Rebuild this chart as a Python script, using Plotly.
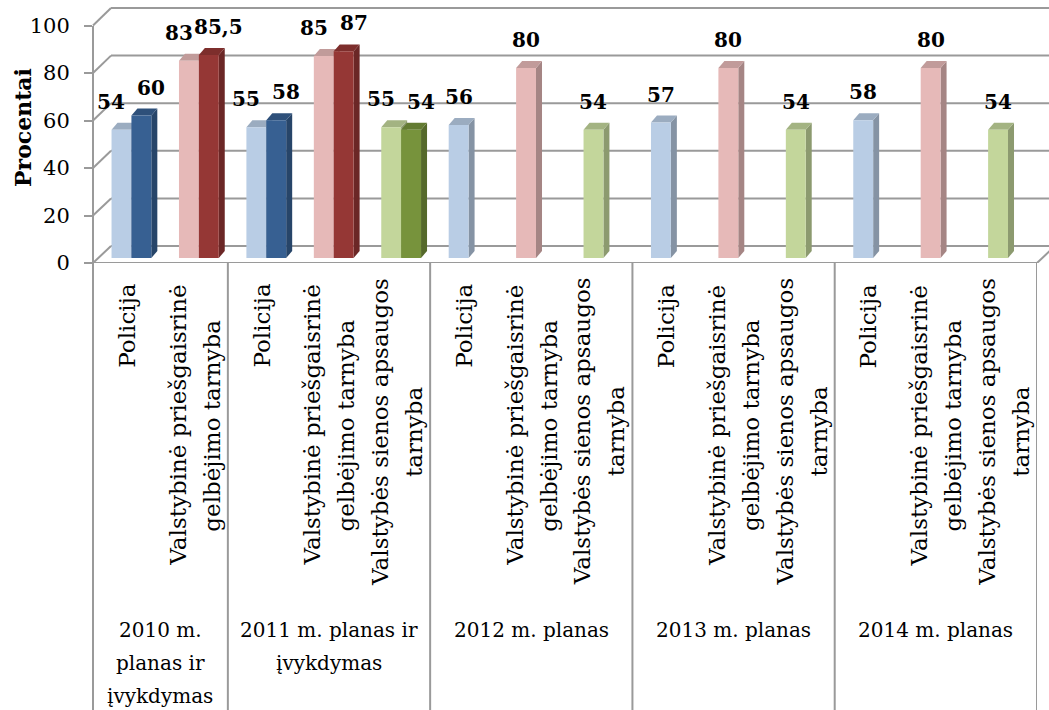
import plotly.graph_objects as go

# ---------------- data ----------------
groups = ["2010 m.<br>planas ir<br>įvykdymas", "2011 m. planas ir<br>įvykdymas",
          "2012 m. planas", "2013 m. planas", "2014 m. planas"]
group_sizes = [2, 3, 3, 3, 3]

POL = "Policija"
VPGT = "Valstybinė priešgaisrinė<br>gelbėjimo tarnyba"
VSAT = "Valstybės sienos apsaugos<br>tarnyba"
categories = [POL, VPGT,
              POL, VPGT, VSAT,
              POL, VPGT, VSAT,
              POL, VPGT, VSAT,
              POL, VPGT, VSAT]
services = ["pol", "vpgt", "pol", "vpgt", "vsat", "pol", "vpgt", "vsat",
            "pol", "vpgt", "vsat", "pol", "vpgt", "vsat"]
plan_values = [54, 83, 55, 85, 55, 56, 80, 54, 57, 80, 54, 58, 80, 54]
actual_values = [60, 85.5, 58, 87, 54, None, None, None, None, None, None, None, None, None]
y_ticks = [0, 20, 40, 60, 80, 100]

plan_colors = {"pol": "#B9CDE5", "vpgt": "#E6B9B8", "vsat": "#C3D69B"}
actual_colors = {"pol": "#376092", "vpgt": "#953735", "vsat": "#77933C"}

# ---------------- geometry (pixels of the 1049x710 page) ----------------
W, H = 1049, 710
X_LEFT, X_RIGHT = 93, 1037          # front edge of floor / table
Y_FLOOR_FRONT = 263                 # front floor line
Y_BASE = 258                        # bar base (value 0)
PX_PER_UNIT = 2.375
DEPTH_X, DEPTH_Y = 18, 17           # wall offset
WALL_SHIFT = (Y_BASE - (Y_FLOOR_FRONT - DEPTH_Y)) / PX_PER_UNIT

n = len(categories)
cat_px = (X_RIGHT - X_LEFT) / n
y_lo = -(Y_FLOOR_FRONT - Y_BASE) / PX_PER_UNIT
y_hi = Y_BASE / PX_PER_UNIT
FRONT_SHIFT = y_lo

BAR_W = 0.295
OFFSETS = {"plan": -0.225, "actual": 0.07}
dx = 6 / cat_px
dy = 7 / PX_PER_UNIT

FONT = "DejaVu Serif"
CAT_SIZE = 23
GRP_SIZE = 20
CAT_GAP = 34
GRP_GAP = 33
GRID = "#9a9a9a"


def shade(hexc, f):
    hexc = hexc.lstrip("#")
    r, g, b = (int(hexc[i:i + 2], 16) for i in (0, 2, 4))
    return "rgb(%d,%d,%d)" % (r * f, g * f, b * f)


def px_x(p):
    return p / W


def px_y(p):
    return (H - p) / H


fig = go.Figure()

# ---- 3D side and top faces (base subplot, below the front faces) ----
for key, vals, cols in (("plan", plan_values, plan_colors), ("actual", actual_values, actual_colors)):
    for i, v in enumerate(vals):
        if v is None:
            continue
        l = i + OFFSETS[key]
        r = l + BAR_W
        base = cols[services[i]]
        fig.add_trace(go.Scatter(
            x=[r, r + dx, r + dx, r, r], y=[0, dy, v + dy, v, 0],
            fill="toself", fillcolor=shade(base, 0.72), mode="lines",
            line=dict(width=0), hoverinfo="skip", showlegend=False))
        fig.add_trace(go.Scatter(
            x=[l, r, r + dx, l + dx, l], y=[v, v, v + dy, v + dy, v],
            fill="toself", fillcolor=shade(base, 0.84), mode="lines",
            line=dict(width=0), hoverinfo="skip", showlegend=False))

# ---- front faces (overlay subplot, on top) ----
x_idx = list(range(n))
fig.add_trace(go.Bar(
    x=x_idx, y=plan_values, offset=OFFSETS["plan"], width=BAR_W,
    marker=dict(color=[plan_colors[s] for s in services], line=dict(width=0)),
    xaxis="x2", yaxis="y2", name="planas", showlegend=False))
fig.add_trace(go.Bar(
    x=x_idx, y=actual_values, offset=OFFSETS["actual"], width=BAR_W,
    marker=dict(color=[actual_colors[s] for s in services], line=dict(width=0)),
    xaxis="x2", yaxis="y2", name="įvykdymas", showlegend=False))

annotations = []
# ---- data labels ----
for key, vals in (("plan", plan_values), ("actual", actual_values)):
    for i, v in enumerate(vals):
        if v is None:
            continue
        paired = plan_values[i] is not None and actual_values[i] is not None
        shift = 0
        if paired:
            shift = -10 if key == "plan" else 10
        txt = ("%g" % v).replace(".", ",")
        annotations.append(dict(
            x=i + OFFSETS[key] + BAR_W / 2, y=v, xref="x", yref="y",
            text="<b>%s</b>" % txt, showarrow=False, xanchor="center", yanchor="middle",
            xshift=shift, yshift=28, font=dict(family=FONT, size=20, color="black")))

# ---- category labels (rotated, one annotation per line) ----
for i, c in enumerate(categories):
    lines = c.split("<br>")
    if len(lines) == 1:
        annotations.append(dict(
            x=i, y=px_y(282), xref="x", yref="paper", text=lines[0], textangle=-90,
            showarrow=False, xanchor="center", yanchor="top",
            font=dict(family=FONT, size=CAT_SIZE, color="black")))
    else:
        longest = max(len(s) for s in lines)
        yc = 282 + longest * 0.52 * CAT_SIZE / 2
        for k, s in enumerate(lines):
            annotations.append(dict(
                x=i, y=px_y(yc), xref="x", yref="paper", text=s, textangle=-90,
                showarrow=False, xanchor="center", yanchor="middle",
                xshift=(k - (len(lines) - 1) / 2) * CAT_GAP,
                font=dict(family=FONT, size=CAT_SIZE, color="black")))

# ---- group labels ----
start = 0
bounds = [-0.5]
for g, sz in zip(groups, group_sizes):
    mid = start + (sz - 1) / 2
    for k, s in enumerate(g.split("<br>")):
        annotations.append(dict(
            x=mid, y=px_y(630 + k * GRP_GAP), xref="x", yref="paper", text=s,
            showarrow=False, xanchor="center", yanchor="middle",
            font=dict(family=FONT, size=GRP_SIZE, color="black")))
    start += sz
    bounds.append(start - 0.5)

# ---- y title ----
annotations.append(dict(
    x=px_x(23), y=px_y(128), xref="paper", yref="paper", text="<b>Procentai</b>",
    textangle=-90, showarrow=False, xanchor="center", yanchor="middle",
    font=dict(family=FONT, size=22, color="black")))

# ---- structural lines: back wall grid, diagonals, floor, table ----
shapes = []
for v in y_ticks:
    yw = v * (2.38 / PX_PER_UNIT) + WALL_SHIFT
    shapes.append(dict(type="line", xref="paper", yref="y", layer="below",
                       x0=px_x(X_LEFT + DEPTH_X), x1=1.0, y0=yw, y1=yw,
                       line=dict(color=GRID, width=2)))
    shapes.append(dict(type="line", xref="paper", yref="y", layer="below",
                       x0=px_x(X_LEFT), x1=px_x(X_LEFT + DEPTH_X),
                       y0=v + FRONT_SHIFT, y1=yw, line=dict(color=GRID, width=2)))
shapes.append(dict(type="line", xref="paper", yref="y", layer="below",
                   x0=px_x(X_RIGHT), x1=px_x(X_RIGHT + DEPTH_X),
                   y0=FRONT_SHIFT, y1=WALL_SHIFT, line=dict(color=GRID, width=2)))
shapes.append(dict(type="line", xref="x", yref="y", layer="below",
                   x0=-0.5, x1=n - 0.5, y0=FRONT_SHIFT, y1=FRONT_SHIFT,
                   line=dict(color=GRID, width=2)))
shapes.append(dict(type="line", xref="paper", yref="paper", layer="below",
                   x0=px_x(X_LEFT), x1=px_x(X_LEFT), y0=0, y1=px_y(26),
                   line=dict(color=GRID, width=2)))
for b in bounds[1:]:
    shapes.append(dict(type="line", xref="x", yref="paper", layer="below",
                       x0=b, x1=b, y0=0, y1=px_y(Y_FLOOR_FRONT),
                       line=dict(color=GRID, width=2)))

xdom = [px_x(X_LEFT), px_x(X_RIGHT)]
ydom = [px_y(Y_FLOOR_FRONT), 1.0]

fig.update_layout(
    width=W, height=H, margin=dict(l=0, r=0, t=0, b=0, pad=0, autoexpand=False),
    paper_bgcolor="white", plot_bgcolor="rgba(0,0,0,0)",
    barmode="overlay", showlegend=False,
    font=dict(family=FONT),
    xaxis=dict(domain=xdom, range=[-0.5, n - 0.5], showgrid=False, zeroline=False,
               showticklabels=False, ticks="", showline=False, fixedrange=True,
               automargin=False),
    yaxis=dict(domain=ydom, range=[y_lo, y_hi], showgrid=False, zeroline=False,
               tickvals=[v + FRONT_SHIFT for v in y_ticks], ticktext=[str(v) for v in y_ticks],
               ticks="outside", ticklen=8, tickwidth=2, tickcolor=GRID,
               ticklabelstandoff=10, showline=False, automargin=False,
               tickfont=dict(family=FONT, size=21, color="black"), fixedrange=True),
    xaxis2=dict(overlaying="x", matches="x", visible=False, automargin=False),
    yaxis2=dict(overlaying="y", matches="y", visible=False, automargin=False),
    shapes=shapes, annotations=annotations,
)

fig.write_html("out.html", config={"displayModeBar": False},
               post_script="document.body.style.margin='0';document.body.style.overflow='hidden';")
